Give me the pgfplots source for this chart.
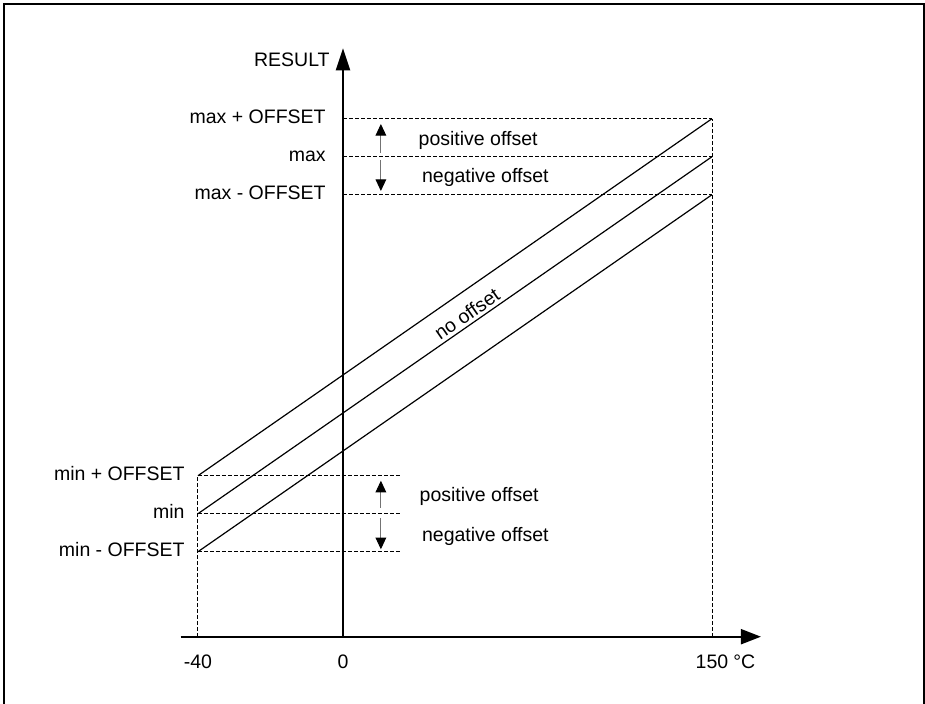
\documentclass[border=0pt]{standalone}
\usepackage{fontspec}
\setmainfont{Liberation Sans}
\usepackage{pgfplots}
\pgfplotsset{compat=1.18}
\usetikzlibrary{arrows.meta}

\newcommand{\lbl}{\fontsize{9.75}{11.5}\selectfont}

\begin{document}
\begin{tikzpicture}[font=\lbl]
\begin{axis}[
  at={(0,0)}, anchor=origin,
  x=1.23pt, y=0.5pt,
  axis lines=middle,
  clip=false,
  hide obscured x ticks=false,
  hide obscured y ticks=false,
  % the temperature axis is not to scale: below 0 it is stretched
  x coord trafo/.code={\pgfmathparse{(#1)<0 ? 1.4736*(#1) : (#1)}},
  xmin=-44.77, xmax=169.9,
  ymin=0, ymax=588.4,
  xtick={-40,0,150}, xticklabels={-40,0,150},
  ytick={442,480,518},
  yticklabels={max - OFFSET, max, max + OFFSET},
  major tick length=0pt,
  xticklabel style={anchor=base, inner sep=0pt, yshift=-15.8pt, font=\lbl},
  yticklabel style={anchor=base east, inner sep=0pt, xshift=-8.5pt, yshift=-2.25pt, font=\lbl},
  x axis line style={line width=1pt, -{Triangle[length=10pt,width=7.5pt]}},
  y axis line style={line width=1pt, -{Triangle[length=11pt,width=7pt]}},
]
% limits
\addplot[black, line width=0.5pt, dash pattern=on 2pt off 1pt] coordinates {(0,518)(150,518)};
\addplot[black, line width=0.5pt, dash pattern=on 2pt off 1pt] coordinates {(0,480)(150,480)};
\addplot[black, line width=0.5pt, dash pattern=on 2pt off 1pt] coordinates {(0,442)(150,442)};
\addplot[black, line width=0.5pt, dash pattern=on 2pt off 1pt] coordinates {(-40,161)(23,161)};
\addplot[black, line width=0.5pt, dash pattern=on 2pt off 1pt] coordinates {(-40,123)(23,123)};
\addplot[black, line width=0.5pt, dash pattern=on 2pt off 1pt] coordinates {(-40,85)(23,85)};
\addplot[black, line width=0.5pt, dash pattern=on 2pt off 1pt] coordinates {(-40,0)(-40,161)};
\addplot[black, line width=0.5pt, dash pattern=on 2pt off 1pt] coordinates {(150,0)(150,518)};

% transfer lines
\addplot[black, line width=0.6pt] coordinates {(-40,161)(150,518)};
\addplot[black, line width=0.6pt] coordinates {(-40,123)(150,480)}
  node[pos=0.535, sloped, anchor=south, inner sep=1.5pt, font=\lbl] {no offset};
\addplot[black, line width=0.6pt] coordinates {(-40,85)(150,442)};

% offset arrows
\addplot[black!55, line width=0.5pt, -{Triangle[length=5.8pt,width=5.3pt,color=black]}] coordinates {(15.4,483.7)(15.4,512.7)};
\addplot[black!55, line width=0.5pt, -{Triangle[length=5.8pt,width=5.3pt,color=black]}] coordinates {(15.4,476.7)(15.4,445.7)};
\addplot[black!55, line width=0.5pt, -{Triangle[length=5.8pt,width=5.3pt,color=black]}] coordinates {(15.4,128.7)(15.4,156)};
\addplot[black!55, line width=0.5pt, -{Triangle[length=5.8pt,width=5.3pt,color=black]}] coordinates {(15.4,118.7)(15.4,87.4)};

\node[anchor=base west, inner sep=0pt] at (axis cs:30.6,490.7) {positive offset};
\node[anchor=base west, inner sep=0pt] at (axis cs:32.0,454) {negative offset};
\node[anchor=base west, inner sep=0pt] at (axis cs:31.0,135) {positive offset};
\node[anchor=base west, inner sep=0pt] at (axis cs:32.0,95) {negative offset};

% levels at -40
\node[anchor=base east, inner sep=0pt, xshift=-6.5pt, yshift=-2.25pt] at (axis cs:-40,161) {min + OFFSET};
\node[anchor=base east, inner sep=0pt, xshift=-6.5pt, yshift=-2.25pt] at (axis cs:-40,123) {min};
\node[anchor=base east, inner sep=0pt, xshift=-6.5pt, yshift=-2.25pt] at (axis cs:-40,85) {min - OFFSET};

\node[anchor=base east, inner sep=0pt, xshift=-6.5pt] at (axis cs:0,570) {RESULT};
\node[anchor=base west, inner sep=0pt] at (axis cs:158.5,-31.6) {°C};
\end{axis}
% frame
\draw[line width=1pt] (-169.5pt,-40pt) -- (-169.5pt,316.35pt) -- (290.5pt,316.35pt) -- (290.5pt,-40pt);
\pgfresetboundingbox
\path[use as bounding box] (-171.5pt,-33.65pt) rectangle (291pt,318.35pt);
\end{tikzpicture}
\end{document}
